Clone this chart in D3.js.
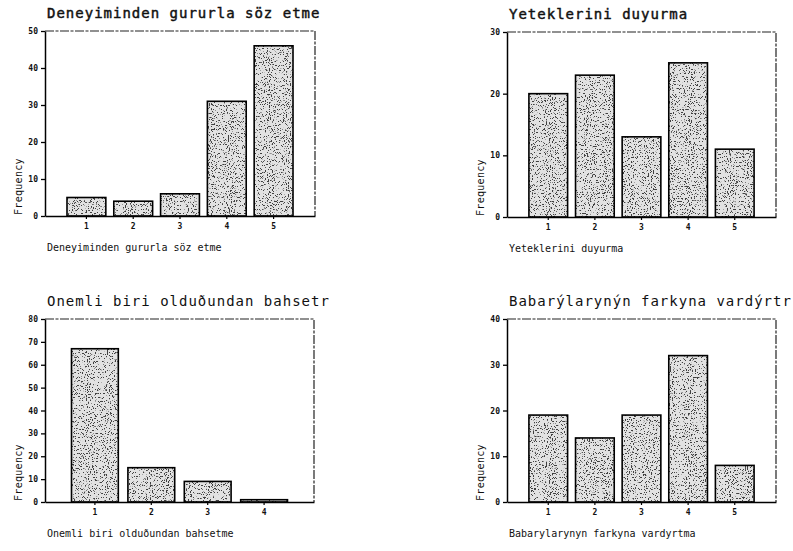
<!DOCTYPE html>
<html>
<head>
<meta charset="utf-8">
<script src="https://cdn.jsdelivr.net/npm/d3@7"></script>
<style>
  html, body { margin: 0; padding: 0; background: #fff; }
  svg { display: block; }
  text { font-family: "DejaVu Sans Mono", "Liberation Mono", monospace; fill: #111; }
</style>
</head>
<body>
<svg id="chart" width="793" height="551"></svg>
<script>
// Frequency tables for four survey items (n = 92 each)
const titles = [
  "Deneyiminden gururla söz etme",
  "Yeteklerini duyurma",
  "Onemli biri olduðundan bahsetr",
  "Babarýlarynýn farkyna vardýrtr"
];
const captions = [
  "Deneyiminden gururla söz etme",
  "Yeteklerini duyurma",
  "Onemli biri olduðundan bahsetme",
  "Babarylarynyn farkyna vardyrtma"
];
const categoriesA = ["1", "2", "3", "4", "5"];
const categoriesB = ["1", "2", "3", "4"];
const valuesGurur = [5, 4, 6, 31, 46];
const valuesYetek = [20, 23, 13, 25, 11];
const valuesOnemli = [67, 15, 9, 1];
const valuesBasari = [19, 14, 19, 32, 8];
const yMaxima = [50, 30, 80, 40];
const yTickValues = [
  [0, 10, 20, 30, 40, 50],
  [0, 10, 20, 30],
  [0, 10, 20, 30, 40, 50, 60, 70, 80],
  [0, 10, 20, 30, 40]
];
const yAxisTitle = "Frequency";

const series = [
  { cats: categoriesA, vals: valuesGurur },
  { cats: categoriesA, vals: valuesYetek },
  { cats: categoriesB, vals: valuesOnemli },
  { cats: categoriesA, vals: valuesBasari }
];

// plot frames: left, top, right, bottom
const frames = [
  [45, 31, 315, 216],
  [507, 32, 776, 217],
  [45, 319, 314, 502],
  [507, 319, 776, 502]
];

const svg = d3.select("#chart");

// speckled grey fill for the bars
const defs = svg.append("defs");
const f = defs.append("filter")
  .attr("id", "stipple")
  .attr("x", 0).attr("y", 0).attr("width", 1).attr("height", 1)
  .attr("color-interpolation-filters", "sRGB");
f.append("feTurbulence")
  .attr("type", "fractalNoise")
  .attr("baseFrequency", "0.95 0.75")
  .attr("numOctaves", 2)
  .attr("seed", 11)
  .attr("result", "noise");
f.append("feColorMatrix")
  .attr("in", "noise")
  .attr("type", "matrix")
  .attr("values", "0 0 0 0 0.25  0 0 0 0 0.25  0 0 0 0 0.25  -16 0 0 0 6.5")
  .attr("result", "dots");
f.append("feComposite")
  .attr("in", "dots").attr("in2", "SourceAlpha")
  .attr("operator", "in").attr("result", "clipped");
const merge = f.append("feMerge");
merge.append("feMergeNode").attr("in", "SourceGraphic");
merge.append("feMergeNode").attr("in", "clipped");

series.forEach((s, i) => {
  const [L, T, R, B] = frames[i];
  const g = svg.append("g");

  const x = d3.scaleBand()
    .domain(s.cats)
    .range([L, R])
    .paddingInner(0.17)
    .paddingOuter(0.47);
  const y = d3.scaleLinear()
    .domain([0, yMaxima[i]])
    .range([B, T]);

  // title
  g.append("text")
    .attr("x", L + 2)
    .attr("y", T - 13)
    .style("font-size", "14px")
    .style("letter-spacing", "1px")
    .style("stroke", i < 2 ? "#111" : "none")
    .style("stroke-width", i < 2 ? 0.45 : 0)
    .text(titles[i]);

  // frame: top and right edges
  g.append("path")
    .attr("d", `M${L},${T}H${R}V${B}`)
    .attr("fill", "none")
    .attr("stroke", "#222")
    .attr("stroke-width", 1.2)
    .attr("stroke-dasharray", "9 1.5 3 1.5");

  // bars
  const bars = g.append("g");
  bars.selectAll("rect.fill")
    .data(s.vals)
    .join("rect")
    .attr("class", "fill")
    .attr("x", (d, j) => x(s.cats[j]))
    .attr("y", d => y(d))
    .attr("width", x.bandwidth())
    .attr("height", d => B - y(d))
    .attr("fill", "#e2e2e2")
    .attr("filter", "url(#stipple)");
  bars.selectAll("rect.edge")
    .data(s.vals)
    .join("rect")
    .attr("class", "edge")
    .attr("x", (d, j) => x(s.cats[j]))
    .attr("y", d => y(d))
    .attr("width", x.bandwidth())
    .attr("height", d => B - y(d))
    .attr("fill", "none")
    .attr("stroke", "#000")
    .attr("stroke-width", 1.6);

  // y axis
  const ya = g.append("g")
    .attr("transform", `translate(${L},0)`)
    .call(d3.axisLeft(y).tickValues(yTickValues[i]).tickSize(4).tickPadding(3).tickSizeOuter(0));
  ya.select(".domain").attr("stroke", "#000").attr("stroke-width", 1.5);
  ya.selectAll(".tick line").attr("stroke", "#000").attr("stroke-width", 1.3);
  ya.selectAll(".tick text")
    .style("font-size", "8px")
    .style("font-weight", "bold")
    .attr("fill", "#222");

  // x axis
  const xa = g.append("g")
    .attr("transform", `translate(0,${B})`)
    .call(d3.axisBottom(x).tickSize(3).tickPadding(4).tickSizeOuter(0));
  xa.select(".domain").attr("stroke", "#000").attr("stroke-width", 1.5);
  xa.selectAll(".tick line").attr("stroke", "#000").attr("stroke-width", 1.2);
  xa.selectAll(".tick text")
    .style("font-size", "8px")
    .style("font-weight", "bold")
    .attr("fill", "#222");

  // axis titles
  g.append("text")
    .attr("transform", `translate(${L - 23},${B - 1}) rotate(-90)`)
    .attr("text-anchor", "start")
    .style("font-size", "10px")
    .style("letter-spacing", "0.3px")
    .attr("fill", "#222")
    .text(yAxisTitle);

  g.append("text")
    .attr("x", L + 2)
    .attr("y", B + 35)
    .style("font-size", "10px")
    .attr("fill", "#222")
    .text(captions[i]);
});
</script>
</body>
</html>
